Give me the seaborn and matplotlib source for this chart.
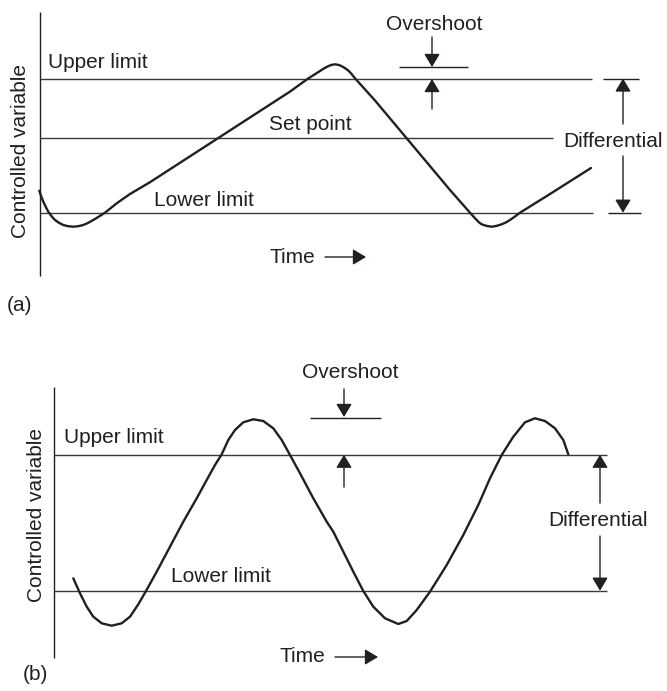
import matplotlib
matplotlib.use("Agg")
import matplotlib.pyplot as plt
import seaborn as sns
import pandas as pd

sns.set_theme(style="white")
plt.rcParams["font.family"] = ["Liberation Sans", "DejaVu Sans"]

INK = "#231f20"
RULE = "#3a3a3a"
FS = 15

# ---- panel (a): on/off control with overshoot (sawtooth response) ----
a_upper, a_set, a_lower = 78.5, 138.3, 212.7
a_curve_x = [39.3, 41.3, 43.3, 45.8, 48.3, 51.5, 55, 59, 63.3, 68, 73.3, 78.3, 83.3,
             88.3, 93.3, 99, 105, 116.7, 130, 150,
             290, 308.3, 315, 320, 324, 327.5, 331, 335, 339, 342.5, 346, 349, 352, 355,
             375, 450, 470, 473.5, 476.7, 479, 481.7, 486.5, 491.7, 496.5, 501.7, 506,
             510, 515, 520, 550, 591]
a_curve_y = [190.7, 196.5, 201.7, 207, 211.7, 216.2, 220, 222.8, 225, 226.2, 226.7, 226.2, 225,
             222.8, 220, 216.5, 212.7, 203.3, 194, 182.2,
             91.6, 78.4, 74.2, 71, 68.4, 66.6, 65, 64.3, 65, 66.6, 68.8, 71.2, 74.5, 78.3,
             100.5, 190, 212.7, 216.6, 220, 222.4, 224.3, 225.9, 226.7, 225.9, 224.3, 222.4,
             220, 216.5, 212.7, 194, 168]

# ---- panel (b): oscillating response ----
b_upper, b_lower = 454.7, 590.7
b_curve_x = [73.3, 80, 86.7, 93.3, 101.7, 111.7, 121.7, 130, 138.3, 146, 156.7, 170,
             183.3, 196.7, 206.7, 215, 221.7, 228.3, 235, 243.3, 253.3, 263.3, 273.3,
             281.7, 290, 300, 313.3, 326.7, 333.3, 343.3, 353.3, 363.3, 373.3, 385,
             398.3, 406.7, 416.7, 430, 446.7, 463.3, 478.3, 490, 501.7, 513.3, 525,
             535, 545, 555, 563.3, 568.3]
b_curve_y = [578.3, 593.3, 606.7, 616.7, 623.3, 625.7, 623.3, 616.7, 604.3, 591, 571.7, 546.7,
             521.7, 498.3, 480, 465, 454.3, 440, 430, 422.3, 419.3, 421, 428.3,
             440, 455, 473.3, 498.3, 521.7, 531.7, 551.7, 571.7, 591, 606.7, 618.3,
             624, 621, 610, 591.7, 565, 535, 505, 478.3, 455, 436.7, 422.3,
             418.3, 421, 428.3, 440, 454.3]

fig = plt.figure(figsize=(6.67, 6.91), dpi=100)
ax = fig.add_axes([0, 0, 1, 1])


def arrow(x0, y0, x1, y1):
    ax.annotate("", xy=(x1, y1), xytext=(x0, y0),
                arrowprops=dict(arrowstyle="-|>,head_length=0.4,head_width=0.24",
                                mutation_scale=20, color=INK, lw=1.0,
                                shrinkA=0, shrinkB=0))


def txt(x, y, s, **kw):
    ax.text(x, y, s, fontsize=FS, color=INK, va="baseline", ha="left", **kw)


# ===== panel (a) =====
ax.vlines(39.5, 12, 276, color=INK, lw=1.0)
ax.hlines(a_upper, 39.5, 592, color=RULE, lw=1.0)
ax.hlines(a_set, 39.5, 553, color=RULE, lw=1.0)
ax.hlines(a_lower, 39.5, 593, color=RULE, lw=1.0)
sns.lineplot(data=pd.DataFrame({"t": a_curve_x, "v": a_curve_y}), x="t", y="v",
             sort=False, estimator=None, ax=ax, color=INK, lw=1.7,
             solid_joinstyle="round")

txt(48, 68, "Upper limit")
txt(269, 130, "Set point")
txt(154, 206, "Lower limit")
txt(270, 263, "Time")
arrow(325, 257, 366, 257)
txt(7, 311, "(a)")
ax.text(21, 151, "Controlled variable", fontsize=FS, color=INK, rotation=90,
        ha="center", va="center")

# overshoot marker
txt(386, 30, "Overshoot")
arrow(432, 37, 432, 67)
ax.hlines(67, 399, 468, color=INK, lw=1.0)
arrow(432, 109, 432, 79)

# differential marker
ax.hlines(a_upper, 603, 639, color=INK, lw=1.0)
ax.hlines(a_lower, 608, 641, color=INK, lw=1.0)
arrow(623, 124, 623, a_upper)
arrow(623, 156, 623, a_lower)
txt(563, 147, "Differential")

# ===== panel (b) =====
ax.vlines(54, 387, 658, color=INK, lw=1.0)
ax.hlines(b_upper, 54, 607, color=RULE, lw=1.0)
ax.hlines(b_lower, 54, 607, color=RULE, lw=1.0)
sns.lineplot(data=pd.DataFrame({"t": b_curve_x, "v": b_curve_y}), x="t", y="v",
             sort=False, estimator=None, ax=ax, color=INK, lw=1.7,
             solid_joinstyle="round")

txt(64, 443, "Upper limit")
txt(171, 582, "Lower limit")
txt(279, 662, "Time")
arrow(335, 657, 378, 657)
txt(23, 680, "(b)")
ax.text(37, 515, "Controlled variable", fontsize=FS, color=INK, rotation=90,
        ha="center", va="center")

txt(302, 378, "Overshoot")
arrow(344, 389, 344, 417)
ax.hlines(418, 310, 381, color=INK, lw=1.0)
arrow(344, 487, 344, b_upper)

arrow(600, 503, 600, b_upper)
arrow(600, 536, 600, b_lower)
txt(548, 526, "Differential")

ax.set_xlim(0, 667)
ax.set_ylim(691, 0)
ax.axis("off")

fig.savefig("out.png", dpi=100, facecolor="white")
